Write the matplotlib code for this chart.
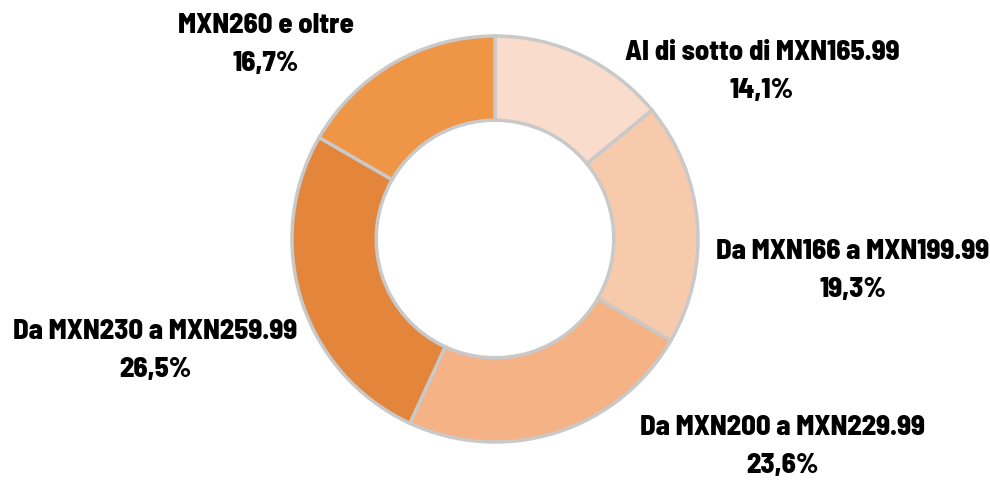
import matplotlib
matplotlib.use("Agg")
import matplotlib.pyplot as plt

# price bands and shares (%)
categories = ["Al di sotto di MXN165.99", "Da MXN166 a MXN199.99",
              "Da MXN200 a MXN229.99", "Da MXN230 a MXN259.99",
              "MXN260 e oltre"]
shares = [14.1, 19.3, 23.6, 26.5, 16.7]
share_labels = ["14,1%", "19,3%", "23,6%", "26,5%", "16,7%"]
colors = ["#F9DCCB", "#F8CAAC", "#F5B284", "#E3863C", "#EE9546"]

H = 481
fig = plt.figure(figsize=(9.9, 4.81), dpi=100)
ax = fig.add_axes([0, 0, 1, 1])

# pixel-like data units so the ring sits where the reference has it
ax.pie(shares, colors=colors, startangle=90, counterclock=False,
       center=(495, H - 240), radius=203, frame=True,
       wedgeprops=dict(width=203 * 0.415, edgecolor="#c9c9c9", linewidth=2.5))
ax.set_xlim(0, 990)
ax.set_ylim(0, H)
ax.set_aspect("equal")
ax.axis("off")

# label centre x and baseline of the first line (pixels from top)
label_pos = [(762, 60), (853, 259), (782, 435), (155, 339), (266, 33)]
pitch = 38
font = dict(fontsize=20.5, fontweight=800,
            family=["Barlow Semi Condensed", "Barlow Condensed", "DejaVu Sans"])
for name, pct, (x, y) in zip(categories, share_labels, label_pos):
    ax.text(x, H - y, name, ha="center", va="baseline", **font)
    ax.text(x, H - y - pitch, pct, ha="center", va="baseline", **font)

fig.savefig("out.png", dpi=100)
